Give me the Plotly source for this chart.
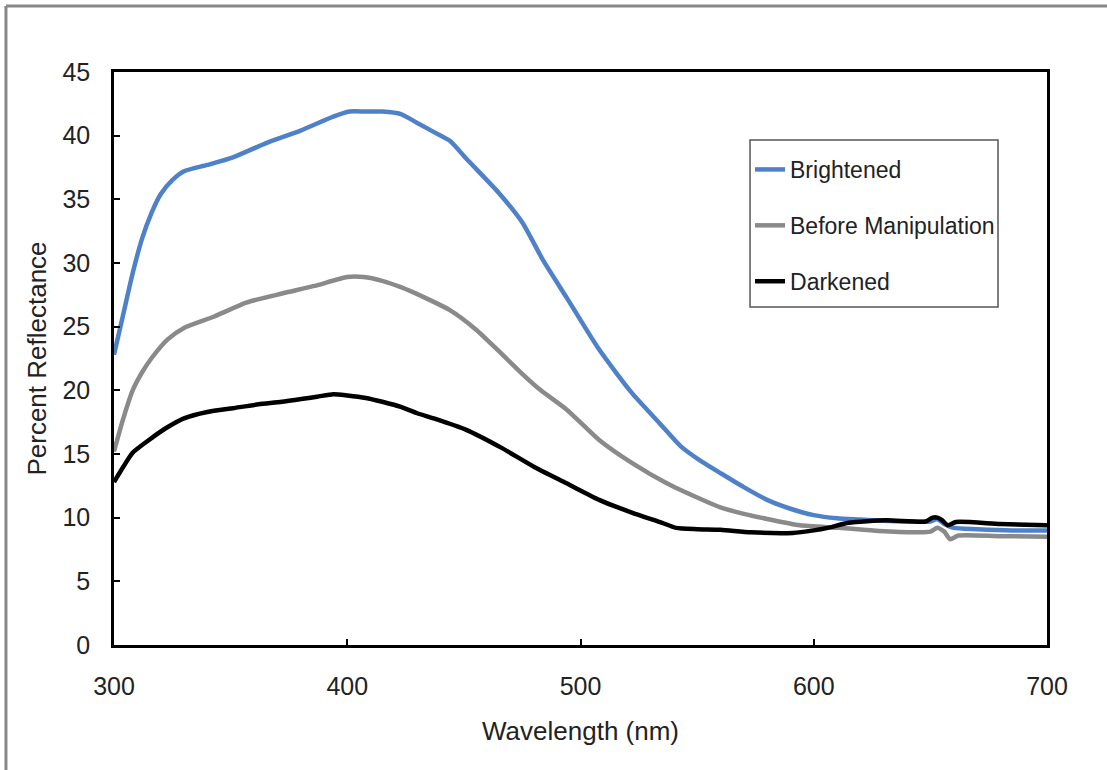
import plotly.graph_objects as go

# ---- data ----
wl_bright = [300, 304, 308, 312, 316, 320, 325, 330, 340, 351, 365, 380, 394, 401, 408, 415, 423, 430,
             437, 444, 451, 465, 475, 484, 494, 508, 522, 534, 543, 552, 560, 570, 580, 590, 600, 610,
             620, 630, 640, 650, 653, 656, 660, 670, 685, 700]
val_bright = [22.8, 26.0, 29.2, 31.9, 33.9, 35.4, 36.5, 37.2, 37.7, 38.3, 39.4, 40.4, 41.5, 41.9, 41.9,
              41.9, 41.7, 41.0, 40.3, 39.6, 38.2, 35.5, 33.2, 30.2, 27.3, 23.2, 19.8, 17.4, 15.6, 14.4,
              13.5, 12.4, 11.4, 10.7, 10.2, 9.95, 9.85, 9.75, 9.7, 9.7, 9.9, 9.5, 9.2, 9.1, 9.0, 9.0]

wl_before = [300, 304, 308, 312, 316, 323, 330, 343, 357, 372, 386, 400, 407, 415, 423, 433, 444, 455,
             466, 475, 483, 494, 508, 522, 537, 551, 560, 570, 580, 594, 611, 628, 645, 650, 653, 656,
             658.5, 662, 680, 700]
val_before = [15.2, 17.8, 20.0, 21.4, 22.5, 24.0, 24.9, 25.8, 26.9, 27.6, 28.2, 28.9, 28.9, 28.6, 28.1,
              27.3, 26.3, 24.8, 22.9, 21.3, 20.0, 18.5, 16.1, 14.3, 12.7, 11.5, 10.8, 10.3, 9.9, 9.4,
              9.2, 8.95, 8.85, 8.9, 9.2, 8.9, 8.3, 8.6, 8.55, 8.5]

wl_dark = [300, 304, 308, 315, 322, 330, 340, 351, 362, 372, 387, 394, 400, 408, 415, 423, 430, 437,
           451, 466, 480, 494, 508, 522, 535, 541, 550, 560, 573, 591, 600, 606, 615, 631, 648, 651,
           653, 655, 657.5, 661, 680, 700]
val_dark = [12.8, 14.0, 15.1, 16.1, 17.0, 17.8, 18.3, 18.6, 18.9, 19.1, 19.5, 19.7, 19.6, 19.4, 19.1,
            18.7, 18.2, 17.8, 16.9, 15.5, 14.0, 12.7, 11.4, 10.4, 9.6, 9.2, 9.1, 9.05, 8.85, 8.8, 9.0,
            9.2, 9.6, 9.8, 9.7, 10.0, 10.0, 9.8, 9.4, 9.66, 9.5, 9.4]

series_names = ["Brightened", "Before Manipulation", "Darkened"]
x_ticks = [300, 400, 500, 600, 700]
y_ticks = [0, 5, 10, 15, 20, 25, 30, 35, 40, 45]

FONT = "Liberation Sans, Arial, sans-serif"
TXT = "#222222"

fig = go.Figure()
for name, xs, ys, col, grp in [
    (series_names[0], wl_bright, val_bright, "#4F81C9", "a"),
    (series_names[1], wl_before, val_before, "#8A8A8A", "b"),
    (series_names[2], wl_dark, val_dark, "#000000", "c"),
]:
    fig.add_trace(go.Scatter(x=xs, y=ys, mode="lines", name=name, legendgroup=grp,
                             line=dict(color=col, width=4.5, shape="spline", smoothing=0.6)))

fig.update_layout(
    width=1107, height=770,
    margin=dict(l=114, r=60, t=72, b=125),
    paper_bgcolor="white", plot_bgcolor="white",
    font=dict(family=FONT, color=TXT),
    showlegend=True,
    legend=dict(x=0.6817, y=0.8674, xanchor="left", yanchor="top",
                bgcolor="rgba(0,0,0,0)", borderwidth=0,
                font=dict(size=23, family=FONT, color=TXT),
                tracegroupgap=23, itemwidth=30, traceorder="grouped"),
    xaxis=dict(range=[300, 700], tickvals=x_ticks, ticktext=[str(v) for v in x_ticks],
               ticks="inside", ticklen=6, tickwidth=1.5, tickcolor="black",
               showgrid=False, zeroline=False, showline=True, linecolor="black", linewidth=2.5,
               mirror=True, tickfont=dict(size=25, family=FONT, color=TXT),
               ticklabelstandoff=17,
               title=dict(text="Wavelength (nm)", font=dict(size=26, family=FONT, color=TXT), standoff=24)),
    yaxis=dict(range=[0, 45], tickvals=y_ticks, ticktext=[str(v) for v in y_ticks],
               ticks="inside", ticklen=6, tickwidth=1.5, tickcolor="black",
               showgrid=False, zeroline=False, showline=True, linecolor="black", linewidth=2.5,
               mirror=True, tickfont=dict(size=25, family=FONT, color=TXT),
               ticklabelstandoff=16,
               title=dict(text="Percent Reflectance", font=dict(size=26, family=FONT, color=TXT), standoff=9)),
    shapes=[
        # outer image frame (top and left edges)
        dict(type="line", xref="paper", yref="paper", x0=-0.1158, x1=1.07, y0=1.1152, y1=1.1152,
             line=dict(color="#888888", width=3)),
        dict(type="line", xref="paper", yref="paper", x0=-0.1158, x1=-0.1158, y0=1.1152, y1=-0.23,
             line=dict(color="#888888", width=3)),
        # legend box
        dict(type="rect", xref="paper", yref="paper", x0=0.6817, x1=0.9475, y0=0.5899, y1=0.8813,
             line=dict(color="#555555", width=1.5), fillcolor="white", layer="below"),
    ],
)

fig.write_html("out.html", config={"displayModeBar": False},
               post_script="document.body.style.margin='0';document.body.style.overflow='hidden';")
